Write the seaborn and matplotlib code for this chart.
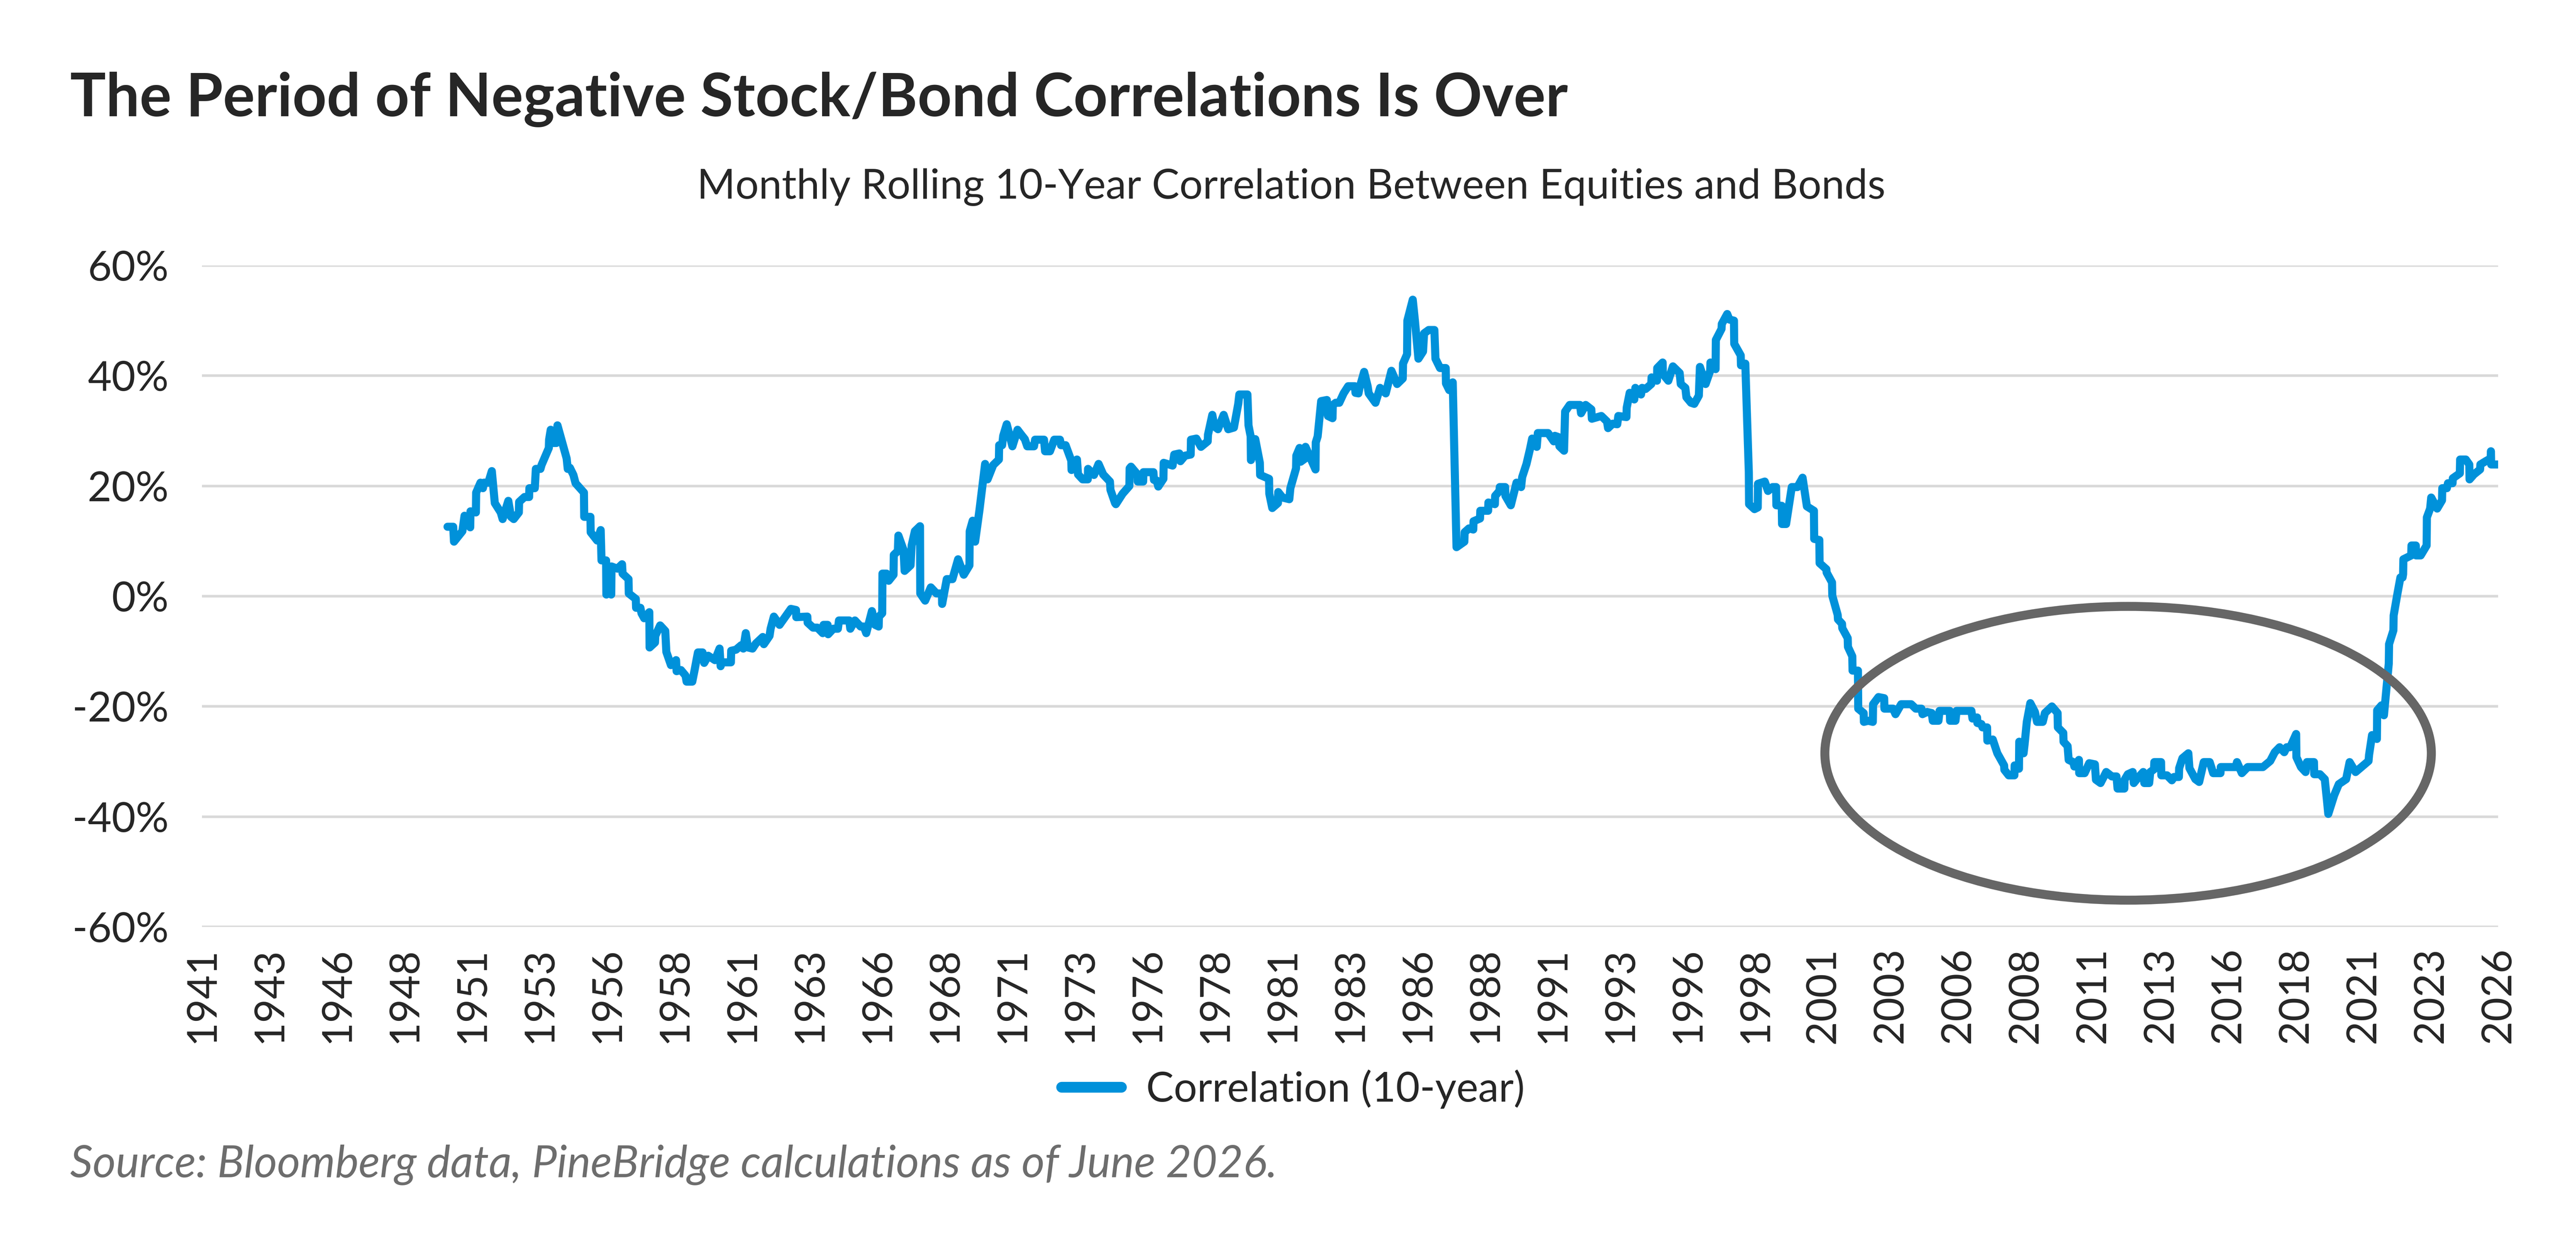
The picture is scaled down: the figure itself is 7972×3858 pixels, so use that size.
import numpy as np
import pandas as pd
import matplotlib
matplotlib.use('Agg')
import matplotlib.pyplot as plt
import seaborn as sns
from matplotlib.patches import Ellipse

# Monthly rolling 10-year stock/bond correlation (%)
yr_1950s = [1950.09, 1950.30, 1950.33, 1950.64, 1950.72, 1950.93, 1950.94, 1951.14, 1951.15, 1951.31,
            1951.40, 1951.44, 1951.60, 1951.73, 1951.84, 1952.06, 1952.13, 1952.34, 1952.44, 1952.54,
            1952.73, 1952.74, 1952.94, 1953.11, 1953.12, 1953.32, 1953.36, 1953.53, 1953.57, 1953.84,
            1953.85, 1953.91, 1953.97, 1954.12, 1954.16, 1954.33, 1954.50, 1954.54, 1954.62, 1954.75,
            1954.83, 1955.14, 1955.15, 1955.38, 1955.39, 1955.63, 1955.76, 1955.79, 1955.96, 1955.97,
            1956.08, 1956.15, 1956.16, 1956.38, 1956.55, 1956.57, 1956.79, 1956.80, 1957.06, 1957.07,
            1957.23, 1957.27, 1957.37, 1957.56, 1957.57, 1957.77, 1957.78, 1957.96, 1958.15, 1958.19,
            1958.36, 1958.55, 1958.57, 1958.73, 1958.90, 1958.94, 1959.15, 1959.24, 1959.32, 1959.36,
            1959.53, 1959.59, 1959.74, 1959.99, 1960.16, 1960.20, 1960.24, 1960.58, 1960.59, 1960.77,
            1960.96, 1961.04, 1961.13, 1961.21, 1961.38, 1961.50, 1961.76, 1961.80, 1962.01, 1962.05,
            1962.17, 1962.38]
cor_1950s = [12.6, 12.6, 9.9, 11.8, 14.6, 12.5, 15.4, 15.2, 18.8, 20.6,
             19.6, 20.6, 20.6, 22.7, 16.9, 15.2, 14.0, 17.3, 14.4, 14.0,
             15.2, 17.1, 18.0, 18.0, 19.6, 19.6, 23.1, 23.1, 23.8, 26.9,
             28.4, 30.2, 27.8, 27.8, 31.0, 28.0, 25.0, 23.1, 23.3, 22.0,
             20.5, 18.8, 14.4, 14.4, 11.6, 10.1, 12.0, 6.5, 6.5, 0.3,
             0.7, 0.3, 5.4, 5.0, 5.8, 4.1, 3.1, 0.5, -0.5, -2.1,
             -2.1, -3.1, -4.0, -2.9, -9.3, -8.4, -7.2, -5.3, -6.3, -10.1,
             -12.5, -11.6, -13.6, -13.4, -14.4, -15.5, -15.5, -13.3, -11.2, -10.2,
             -10.2, -12.1, -10.8, -11.6, -9.5, -12.7, -12.0, -12.0, -9.9, -9.7,
             -8.9, -9.5, -6.7, -9.3, -9.5, -8.6, -7.4, -8.7, -7.2, -5.9,
             -3.7, -5.2]

yr_1960s = [1962.80, 1962.99, 1963.00, 1963.41, 1963.42, 1963.62, 1963.78, 1963.98, 1964.01, 1964.16,
            1964.18, 1964.37, 1964.54, 1964.58, 1964.96, 1965.00, 1965.17, 1965.38, 1965.50, 1965.59,
            1965.80, 1965.92, 1966.05, 1966.06, 1966.18, 1966.19, 1966.34, 1966.42, 1966.60, 1966.61,
            1966.76, 1966.78, 1966.97, 1967.01, 1967.23, 1967.27, 1967.39, 1967.58, 1967.59, 1967.77,
            1967.98, 1968.19, 1968.39, 1968.40, 1968.57, 1968.78, 1968.99, 1969.20, 1969.41, 1969.42,
            1969.53, 1969.62, 1969.78, 1969.99, 1970.08, 1970.29, 1970.50, 1970.51, 1970.62, 1970.66,
            1970.79, 1971.00, 1971.19, 1971.33, 1971.46, 1971.55, 1971.80, 1971.84, 1972.17, 1972.21,
            1972.39, 1972.55, 1972.76, 1972.80, 1972.97, 1973.18, 1973.19, 1973.39, 1973.43, 1973.60,
            1973.79, 1973.80, 1974.02, 1974.19, 1974.36, 1974.61, 1974.63, 1974.80]
cor_1960s = [-2.3, -2.5, -3.8, -3.7, -4.8, -5.7, -5.7, -6.7, -5.2, -5.2,
             -6.9, -5.9, -5.9, -4.4, -4.4, -5.9, -4.4, -5.5, -5.5, -6.7,
             -2.7, -5.2, -5.5, -3.7, -3.1, 4.1, 4.1, 2.8, 3.9, 7.5,
             8.2, 11.0, 8.4, 4.6, 5.6, 9.2, 11.8, 12.7, 0.5, -0.8,
             1.6, 0.5, 0.5, -1.4, 3.1, 3.1, 6.7, 3.9, 5.6, 11.8,
             13.7, 9.9, 15.6, 24.0, 21.2, 23.8, 24.8, 27.4, 27.4, 29.1,
             31.2, 27.2, 30.2, 29.3, 28.5, 27.2, 27.2, 28.4, 28.4, 26.3,
             26.3, 28.4, 28.4, 27.4, 27.4, 24.6, 22.9, 24.8, 22.1, 21.2,
             21.2, 23.1, 22.0, 24.0, 22.1, 20.8, 19.3, 16.9]

yr_1970s = [1974.83, 1975.08, 1975.33, 1975.34, 1975.39, 1975.63, 1975.64, 1975.84, 1975.85, 1976.22,
            1976.24, 1976.34, 1976.40, 1976.59, 1976.60, 1976.93, 1976.99, 1977.18, 1977.22, 1977.39,
            1977.60, 1977.61, 1977.81, 1977.98, 1978.23, 1978.24, 1978.40, 1978.48, 1978.61, 1978.82,
            1978.99, 1979.20, 1979.36, 1979.40, 1979.70, 1979.74, 1979.82, 1979.83, 1979.99, 1980.16,
            1980.17, 1980.50, 1980.51, 1980.62, 1980.83, 1980.84, 1981.00, 1981.25, 1981.29, 1981.50,
            1981.51, 1981.63, 1981.67, 1981.84, 1981.85, 1982.22, 1982.23, 1982.30, 1982.43, 1982.64,
            1982.68, 1982.85, 1982.86, 1982.97, 1983.10, 1983.26, 1983.43, 1983.68, 1983.70, 1983.81,
            1983.85, 1984.02, 1984.15, 1984.19, 1984.44, 1984.61, 1984.82, 1985.03, 1985.24, 1985.45,
            1985.46, 1985.61, 1985.62, 1985.82, 1985.90, 1986.03, 1986.20, 1986.24, 1986.41, 1986.62,
            1986.66, 1986.83, 1987.04, 1987.05, 1987.17, 1987.30]
cor_1970s = [16.7, 18.6, 20.0, 23.2, 23.5, 22.1, 20.8, 20.8, 22.5, 22.5,
             21.1, 21.0, 19.9, 21.3, 24.2, 23.7, 25.7, 25.9, 24.5, 25.5,
             25.7, 28.4, 28.6, 27.1, 28.1, 29.3, 32.9, 30.8, 30.3, 32.9,
             30.3, 30.6, 34.9, 36.6, 36.6, 31.0, 29.0, 24.7, 28.5, 24.2,
             22.0, 21.3, 18.6, 16.0, 16.9, 18.9, 17.9, 17.6, 19.6, 23.2,
             25.5, 26.9, 24.4, 25.0, 27.1, 23.0, 27.9, 29.0, 35.4, 35.6,
             32.7, 32.3, 34.7, 35.1, 35.1, 36.8, 38.1, 38.1, 36.9, 36.8,
             37.8, 40.7, 38.1, 36.8, 35.1, 37.8, 36.8, 40.9, 38.5, 39.5,
             42.2, 43.9, 50.0, 53.8, 50.0, 43.1, 44.4, 47.7, 48.3, 48.3,
             43.1, 41.4, 41.4, 38.6, 37.4, 38.8]

yr_1980s = [1987.44, 1987.73, 1987.74, 1987.90, 1988.06, 1988.07, 1988.31, 1988.32, 1988.61, 1988.62,
            1988.86, 1988.87, 1989.03, 1989.04, 1989.24, 1989.25, 1989.45, 1989.66, 1989.83, 1989.87,
            1990.03, 1990.16, 1990.24, 1990.41, 1990.45, 1990.83, 1991.04, 1991.08, 1991.20, 1991.25,
            1991.42, 1991.46, 1991.63, 1992.01, 1992.05, 1992.22, 1992.43, 1992.45, 1992.80, 1993.01,
            1993.05, 1993.22, 1993.39, 1993.43, 1993.73, 1993.74, 1993.85, 1994.02, 1994.06, 1994.27,
            1994.31, 1994.44, 1994.65, 1994.66, 1994.86, 1994.87, 1995.07, 1995.08, 1995.28, 1995.45,
            1995.70, 1995.74, 1995.91, 1995.95, 1996.12, 1996.24, 1996.41, 1996.45, 1996.66, 1996.83,
            1996.84, 1997.03, 1997.04, 1997.25, 1997.26, 1997.46, 1997.54, 1997.71, 1997.72, 1997.96,
            1997.97, 1998.13, 1998.26, 1998.27, 1998.47, 1998.59, 1998.60, 1998.85, 1998.97, 1999.14,
            1999.27, 1999.28, 1999.48, 1999.49, 1999.64, 1999.85, 2000.06]
cor_1980s = [8.9, 9.9, 11.6, 12.3, 12.1, 13.6, 14.1, 15.5, 15.5, 17.0,
             16.7, 18.2, 19.1, 19.8, 19.8, 18.2, 16.5, 20.6, 19.8, 21.6,
             24.0, 26.7, 28.6, 27.1, 29.6, 29.6, 28.1, 29.1, 28.9, 27.2,
             26.4, 33.5, 34.7, 34.7, 33.2, 34.7, 33.9, 32.2, 32.7, 31.7,
             30.5, 31.3, 31.2, 32.7, 32.5, 34.2, 36.9, 35.7, 37.8, 36.6,
             37.8, 37.6, 38.5, 39.7, 39.1, 41.4, 42.4, 40.3, 39.1, 41.7,
             40.5, 38.5, 37.8, 36.1, 35.1, 34.9, 36.4, 41.6, 38.5, 40.9,
             42.4, 41.2, 46.5, 48.5, 49.4, 51.2, 50.2, 50.0, 45.8, 43.7,
             41.9, 42.2, 22.5, 16.7, 15.8, 16.1, 20.4, 20.8, 19.1, 19.8,
             19.8, 16.5, 16.4, 13.1, 13.1, 19.8, 19.8]

yr_2000s = [2000.25, 2000.41, 2000.67, 2000.68, 2000.87, 2000.88, 2001.13, 2001.14, 2001.34, 2001.35,
            2001.55, 2001.56, 2001.71, 2001.72, 2001.92, 2001.93, 2002.09, 2002.10, 2002.30, 2002.31,
            2002.51, 2002.52, 2002.68, 2002.85, 2002.86, 2003.06, 2003.27, 2003.28, 2003.60, 2003.69,
            2003.90, 2004.27, 2004.44, 2004.65, 2004.69, 2004.86, 2005.03, 2005.07, 2005.28, 2005.32,
            2005.70, 2005.71, 2005.91, 2005.95, 2006.50, 2006.54, 2006.71, 2006.72, 2006.87, 2006.91,
            2007.08, 2007.09, 2007.29, 2007.46, 2007.71, 2007.72, 2007.88, 2008.09, 2008.10, 2008.26,
            2008.27, 2008.43, 2008.47, 2008.55, 2008.68, 2008.85, 2008.93, 2009.14, 2009.22, 2009.48,
            2009.69, 2009.70, 2009.90, 2009.91, 2010.06, 2010.10, 2010.27, 2010.31, 2010.48, 2010.49,
            2010.69, 2010.86, 2011.07, 2011.11, 2011.28, 2011.49, 2011.70, 2011.87, 2011.91, 2012.16,
            2012.17, 2012.29, 2012.47]
cor_2000s = [21.5, 16.3, 15.5, 10.4, 10.2, 6.0, 4.9, 4.3, 2.5, 0.1,
             -3.4, -4.2, -5.0, -5.8, -7.6, -9.2, -10.9, -13.5, -13.5, -20.4,
             -21.2, -22.8, -22.6, -22.8, -19.6, -18.3, -18.5, -20.4, -20.4, -21.4,
             -19.6, -19.6, -20.4, -20.4, -21.4, -21.0, -21.2, -22.6, -22.6, -20.8,
             -20.8, -22.6, -22.6, -20.8, -20.8, -22.2, -22.0, -23.0, -23.2, -23.8,
             -23.8, -26.2, -26.0, -28.5, -30.7, -31.5, -32.5, -32.5, -30.7, -31.3,
             -26.4, -28.5, -26.8, -22.8, -19.4, -21.0, -22.8, -22.8, -21.2, -20.0,
             -21.2, -23.8, -24.8, -26.4, -27.2, -29.7, -30.1, -30.9, -29.7, -32.1,
             -32.1, -30.3, -30.5, -33.3, -33.9, -31.9, -32.7, -32.7, -34.9, -34.9,
             -33.3, -32.3, -31.9]

yr_2010s = [2012.51, 2012.69, 2012.86, 2012.90, 2013.08, 2013.12, 2013.26, 2013.27, 2013.52, 2013.53,
            2013.74, 2013.92, 2014.00, 2014.18, 2014.19, 2014.31, 2014.53, 2014.57, 2014.79, 2014.93,
            2015.10, 2015.32, 2015.45, 2015.72, 2015.73, 2016.29, 2016.33, 2016.51, 2016.73, 2017.29,
            2017.56, 2017.73, 2017.91, 2018.08, 2018.17, 2018.30, 2018.52, 2018.53, 2018.70, 2018.87,
            2018.92, 2019.18, 2019.19, 2019.40, 2019.58, 2019.66, 2019.71, 2019.93, 2020.10, 2020.37,
            2020.50, 2020.72, 2021.20, 2021.22, 2021.33, 2021.51, 2021.52, 2021.68, 2021.77, 2021.95,
            2021.96, 2022.12, 2022.13, 2022.26, 2022.38, 2022.46, 2022.48, 2022.49, 2022.78, 2022.79,
            2022.95, 2022.96, 2023.13, 2023.35, 2023.36, 2023.48, 2023.52, 2023.74, 2023.92, 2023.93,
            2024.10, 2024.14, 2024.31, 2024.32, 2024.58, 2024.59, 2024.80, 2024.93, 2024.94, 2025.10,
            2025.33, 2025.34, 2025.54, 2025.72, 2025.73, 2025.74, 2025.98]
cor_2010s = [-33.9, -32.8, -31.9, -33.9, -33.9, -31.9, -31.4, -30.1, -30.1, -32.5,
             -32.5, -33.4, -32.8, -32.8, -31.2, -29.4, -28.5, -31.2, -33.2, -33.7,
             -30.1, -30.1, -32.1, -32.1, -31.0, -31.0, -30.1, -32.1, -31.0, -31.0,
             -29.9, -28.3, -27.4, -28.3, -27.4, -27.4, -25.0, -29.2, -31.0, -31.9,
             -30.1, -30.1, -32.3, -32.3, -33.2, -37.0, -39.5, -36.1, -34.1, -33.2,
             -30.1, -31.9, -29.9, -28.8, -25.2, -25.9, -20.7, -19.8, -21.6, -12.2,
             -8.7, -6.2, -3.5, 0.2, 3.4, 3.4, 4.0, 6.7, 7.4, 9.2,
             9.2, 7.4, 7.4, 9.2, 14.3, 15.9, 17.9, 15.9, 17.4, 19.6,
             19.6, 20.5, 20.5, 21.4, 22.3, 24.8, 24.8, 23.9, 21.2, 22.1,
             23.0, 23.9, 24.5, 25.0, 26.3, 23.9, 23.9]

x_tick_labels = ['1941', '1943', '1946', '1948', '1951', '1953', '1956', '1958', '1961', '1963',
                 '1966', '1968', '1971', '1973', '1976', '1978', '1981', '1983', '1986', '1988',
                 '1991', '1993', '1996', '1998', '2001', '2003', '2006', '2008', '2011', '2013',
                 '2016', '2018', '2021', '2023', '2026']
y_ticks = [-60, -40, -20, 0, 20, 40, 60]

df = pd.DataFrame({
    'year': np.concatenate([yr_1950s, yr_1960s, yr_1970s, yr_1980s, yr_2000s, yr_2010s]),
    'corr': np.concatenate([cor_1950s, cor_1960s, cor_1970s, cor_1980s, cor_2000s, cor_2010s]),
})

sns.set_theme(style='white')
plt.rcParams['font.family'] = ['Lato', 'DejaVu Sans']

line_color = '#0091DA'
fig = plt.figure(figsize=(39.86, 19.29), dpi=200)
ax = fig.add_axes([0.0784, 0.2561, 0.8914, 0.5308])

sns.lineplot(data=df, x='year', y='corr', ax=ax, estimator=None, sort=False,
             color=line_color, linewidth=9, label='Correlation (10-year)',
             solid_joinstyle='round', solid_capstyle='round', zorder=2)

# highlight the negative-correlation regime
ax.add_patch(Ellipse((2012.3, -28.5), 22.45, 53.3, fill=False,
                     edgecolor='#666666', linewidth=10, zorder=3))

ax.set_xlim(1941, 2026)
ax.set_ylim(-60, 60)
ax.set_xticks([1941 + 2.5 * i for i in range(len(x_tick_labels))])
ax.set_xticklabels(x_tick_labels, rotation=90, va='top', ha='center')
ax.set_yticks(y_ticks)
ax.set_yticklabels([f'{v}%' for v in y_ticks])
ax.tick_params(axis='x', length=0, labelsize=46, pad=23)
ax.tick_params(axis='y', length=0, labelsize=46, pad=37)
ax.set_xlabel('')
ax.set_ylabel('')
ax.grid(axis='y', color='#d9d9d9', linewidth=2.9)
ax.grid(axis='x', visible=False)
ax.set_axisbelow(True)
for s in ax.spines.values():
    s.set_visible(False)

leg = ax.legend(loc='center', bbox_to_anchor=(0.502, 0.126), bbox_transform=fig.transFigure,
                frameon=False, fontsize=46, handlelength=1.45, handletextpad=0.6)
for h in leg.get_lines():
    h.set_linewidth(12)
    h.set_solid_capstyle('round')

fig.text(0.0272, 0.9067, 'The Period of Negative Stock/Bond Correlations Is Over',
         fontsize=66.5, fontweight='bold', va='baseline', ha='left')
fig.text(0.5013, 0.8406, 'Monthly Rolling 10-Year Correlation Between Equities and Bonds',
         fontsize=46, va='baseline', ha='center')
fig.text(0.0272, 0.0552, 'Source: Bloomberg data, PineBridge calculations as of June 2026.',
         fontsize=49.5, style='italic', color='#6d6d6d', va='baseline', ha='left')

fig.savefig('out.png', dpi=200, facecolor='white')
